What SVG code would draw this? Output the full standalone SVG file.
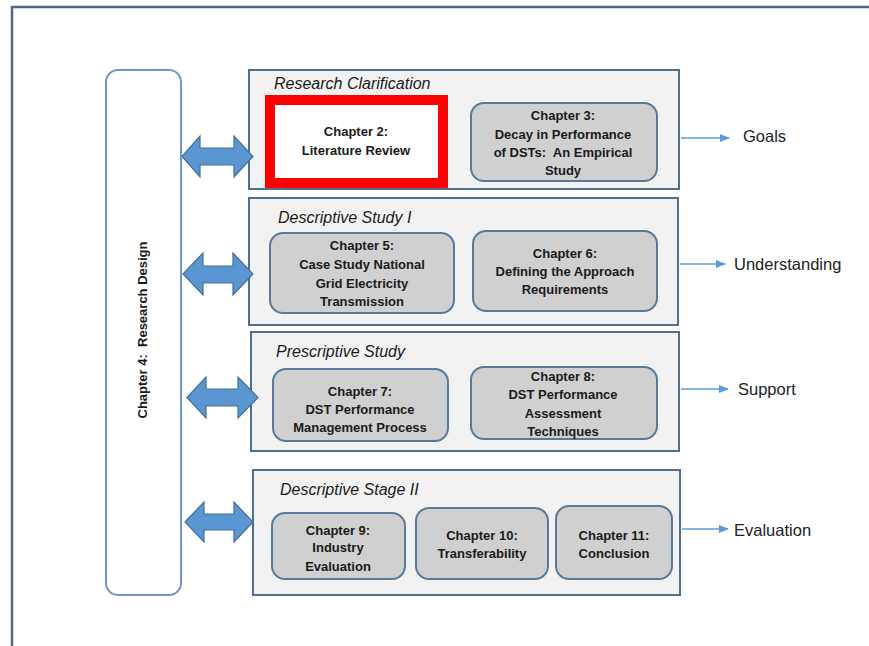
<svg xmlns="http://www.w3.org/2000/svg" width="869" height="646" viewBox="0 0 869 646">
  <style>
    .frame { fill: none; stroke: #4a6b8c; stroke-width: 2.5; }
    .design { fill: #ffffff; stroke: #6f98c8; stroke-width: 2; }
    .panel { fill: #f2f2f2; stroke: #4f6f8f; stroke-width: 2; }
    .chap { fill: #d0d0d0; stroke: #587a9a; stroke-width: 2; }
    .lit { fill: #ffffff; stroke: #ff0000; stroke-width: 10; }
    .title { font-family: "Liberation Sans", Arial, sans-serif; font-style: italic; font-size: 16px; fill: #1a1a1a; }
    .ctext { font-family: "Liberation Sans", Arial, sans-serif; font-weight: bold; font-size: 13px; fill: #1a1a1a; text-anchor: middle; }
    .out { font-family: "Liberation Sans", Arial, sans-serif; font-size: 16.5px; fill: #222222; }
    .dbl { fill: #5a96d2; stroke: #41719c; stroke-width: 1.2; }
    .flow { stroke: #5b9bd5; stroke-width: 1.5; fill: none; }
  </style>
  <defs>
    <marker id="tip" markerWidth="10" markerHeight="8" refX="9" refY="4" orient="auto" markerUnits="userSpaceOnUse">
      <path d="M0,0 L10,4 L0,8 Z" fill="#5b9bd5"/>
    </marker>
  </defs>

  <rect width="869" height="646" fill="#ffffff"/>
  <!-- outer frame (top and left edges) -->
  <path class="frame" d="M12,646 L12,7 L869,7"/>

  <!-- research design column -->
  <g id="design">
    <rect class="design" x="106" y="70" width="75" height="525" rx="12"/>
    <text class="ctext" transform="translate(147,330) rotate(-90)">Chapter 4:&#160; Research Design</text>
  </g>

  <!-- stage panels -->
  <g id="clarification">
    <rect class="panel" x="249" y="70" width="430" height="119"/>
    <text class="title" x="274" y="89">Research Clarification</text>
  </g>
  <g id="ch2">
    <rect class="lit" x="270" y="100" width="173" height="83"/>
    <text class="ctext" x="356" y="136">Chapter 2:</text>
    <text class="ctext" x="356" y="155">Literature Review</text>
  </g>
  <g id="ch3">
    <rect class="chap" x="471" y="103" width="186" height="78" rx="13"/>
    <text class="ctext" x="563" y="120">Chapter 3:</text>
    <text class="ctext" x="563" y="139">Decay in Performance</text>
    <text class="ctext" x="563" y="157">of DSTs:&#160; An Empirical</text>
    <text class="ctext" x="563" y="175">Study</text>
  </g>

  <g id="descriptive1">
    <rect class="panel" x="249" y="198" width="429" height="127"/>
    <text class="title" x="278" y="223">Descriptive Study I</text>
  </g>
  <g id="ch5">
    <rect class="chap" x="270" y="233" width="184" height="80" rx="13"/>
    <text class="ctext" x="362" y="250">Chapter 5:</text>
    <text class="ctext" x="362" y="269">Case Study National</text>
    <text class="ctext" x="362" y="288">Grid Electricity</text>
    <text class="ctext" x="362" y="306">Transmission</text>
  </g>
  <g id="ch6">
    <rect class="chap" x="473" y="231" width="184" height="80" rx="13"/>
    <text class="ctext" x="565" y="258">Chapter 6:</text>
    <text class="ctext" x="565" y="276">Defining the Approach</text>
    <text class="ctext" x="565" y="294">Requirements</text>
  </g>

  <g id="prescriptive">
    <rect class="panel" x="251" y="332" width="428" height="119"/>
    <text class="title" x="276" y="357">Prescriptive Study</text>
  </g>
  <g id="ch7">
    <rect class="chap" x="273" y="369" width="175" height="72" rx="13"/>
    <text class="ctext" x="360" y="396">Chapter 7:</text>
    <text class="ctext" x="360" y="414">DST Performance</text>
    <text class="ctext" x="360" y="432">Management Process</text>
  </g>
  <g id="ch8">
    <rect class="chap" x="471" y="367" width="186" height="72" rx="13"/>
    <text class="ctext" x="563" y="381">Chapter 8:</text>
    <text class="ctext" x="563" y="399">DST Performance</text>
    <text class="ctext" x="563" y="418">Assessment</text>
    <text class="ctext" x="563" y="436">Techniques</text>
  </g>

  <g id="descriptive2">
    <rect class="panel" x="253" y="470" width="427" height="125"/>
    <text class="title" x="280" y="495">Descriptive Stage II</text>
  </g>
  <g id="ch9">
    <rect class="chap" x="272" y="513" width="133" height="66" rx="13"/>
    <text class="ctext" x="338" y="535">Chapter 9:</text>
    <text class="ctext" x="338" y="552">Industry</text>
    <text class="ctext" x="338" y="571">Evaluation</text>
  </g>
  <g id="ch10">
    <rect class="chap" x="416" y="508" width="132" height="71" rx="13"/>
    <text class="ctext" x="482" y="540">Chapter 10:</text>
    <text class="ctext" x="482" y="558">Transferability</text>
  </g>
  <g id="ch11">
    <rect class="chap" x="556" y="506" width="116" height="73" rx="13"/>
    <text class="ctext" x="614" y="540">Chapter 11:</text>
    <text class="ctext" x="614" y="558">Conclusion</text>
  </g>

  <!-- outcome labels -->
  <g id="goals"><text class="out" x="743" y="142">Goals</text></g>
  <g id="understanding"><text class="out" x="734" y="270">Understanding</text></g>
  <g id="support"><text class="out" x="738" y="395">Support</text></g>
  <g id="evaluation"><text class="out" x="734" y="536">Evaluation</text></g>

  <g id="connectors">
    <!-- two-way block arrows between the design column and each stage -->
    <path class="dbl" d="M182,156.5 L200,136 L200,148 L234,148 L234,136 L253,156.5 L234,177 L234,165 L200,165 L200,177 Z"/>
    <path class="dbl" d="M183,274 L203,253 L203,266 L233,266 L233,253 L253,274 L233,295 L233,283 L203,283 L203,295 Z"/>
    <path class="dbl" d="M187,397.5 L206,377 L206,389 L238,389 L238,377 L258,397.5 L238,418 L238,406 L206,406 L206,418 Z"/>
    <path class="dbl" d="M185,522 L204,502 L204,514 L234,514 L234,502 L253,522 L234,542 L234,530 L204,530 L204,542 Z"/>
    <!-- stage outcome arrows -->
    <line class="flow" x1="681" y1="138" x2="729" y2="138" marker-end="url(#tip)"/>
    <line class="flow" x1="680" y1="264" x2="725" y2="264" marker-end="url(#tip)"/>
    <line class="flow" x1="681" y1="389" x2="728" y2="389" marker-end="url(#tip)"/>
    <line class="flow" x1="682" y1="529" x2="728" y2="529" marker-end="url(#tip)"/>
  </g>
</svg>
